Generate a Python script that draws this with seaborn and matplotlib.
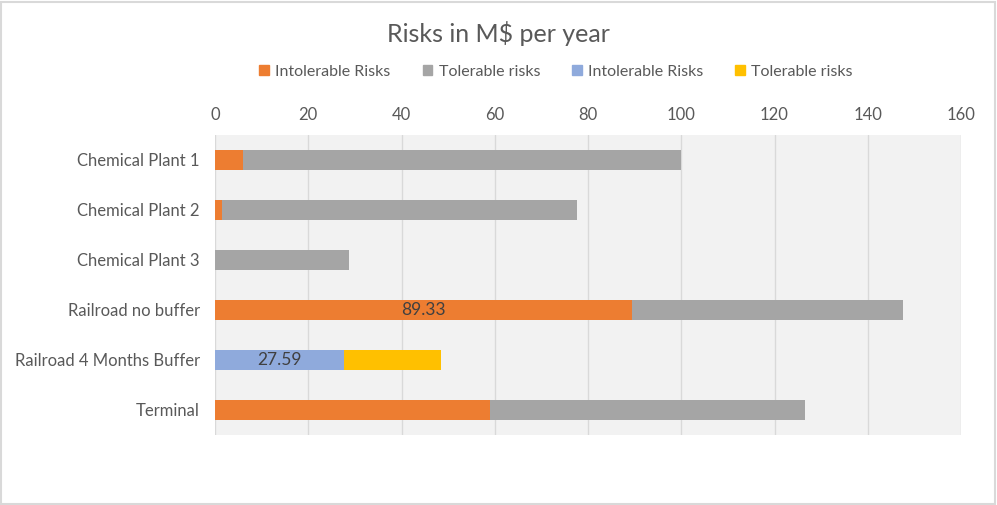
import matplotlib
matplotlib.use("Agg")
import matplotlib.pyplot as plt
import seaborn as sns
import pandas as pd
from matplotlib.patches import Rectangle

categories = ["Chemical Plant 1", "Chemical Plant 2", "Chemical Plant 3",
              "Railroad no buffer", "Railroad 4 Months Buffer", "Terminal"]
# Series 1/2 (orange / grey)
intolerable_a = [6.0, 1.5, 0.0, 89.33, None, 59.0]
tolerable_a = [94.0, 76.1, 28.7, 58.3, None, 67.5]
# Series 3/4 (blue / yellow)
intolerable_b = [None, None, None, None, 27.59, None]
tolerable_b = [None, None, None, None, 20.9, None]
labeled = {"Railroad no buffer": 89.33, "Railroad 4 Months Buffer": 27.59}
xticks = [0, 20, 40, 60, 80, 100, 120, 140, 160]

c_orange = "#ED7D31"
c_grey = "#A5A5A5"
c_blue = "#8FAADC"
c_yellow = "#FFC000"
txt = "#595959"

df = pd.DataFrame({
    "cat": categories,
    "ia": intolerable_a, "ta": tolerable_a,
    "ib": intolerable_b, "tb": tolerable_b,
})
df = df.astype({"ia": float, "ta": float, "ib": float, "tb": float})
df["tot_a"] = df["ia"] + df["ta"]
df["tot_b"] = df["ib"] + df["tb"]

sns.set_theme(style="white")
plt.rcParams["font.family"] = ["Lato", "DejaVu Sans"]

fig = plt.figure(figsize=(9.97, 5.05), dpi=100)
ax = fig.add_axes([215 / 997, 1 - 435 / 505, (961 - 215) / 997, 300 / 505])
ax.set_facecolor("#F2F2F2")

w = 0.4
sns.barplot(data=df, x="tot_a", y="cat", order=categories, color=c_grey,
            width=w, orient="h", ax=ax, saturation=1, linewidth=0)
sns.barplot(data=df, x="ia", y="cat", order=categories, color=c_orange,
            width=w, orient="h", ax=ax, saturation=1, linewidth=0)
sns.barplot(data=df, x="tot_b", y="cat", order=categories, color=c_yellow,
            width=w, orient="h", ax=ax, saturation=1, linewidth=0)
sns.barplot(data=df, x="ib", y="cat", order=categories, color=c_blue,
            width=w, orient="h", ax=ax, saturation=1, linewidth=0)

for i, c in enumerate(categories):
    if c in labeled:
        v = labeled[c]
        ax.text(v / 2, i, f"{v:.2f}", ha="center", va="center",
                fontsize=12.5, color="#404040")

ax.set_xlim(0, 160)
ax.set_ylim(5.5, -0.5)
ax.set_xticks(xticks)
ax.xaxis.tick_top()
ax.tick_params(axis="x", length=0, pad=9, labelsize=12, labelcolor=txt)
ax.tick_params(axis="y", length=0, pad=11, labelsize=12, labelcolor=txt)
ax.set_xlabel("")
ax.set_ylabel("")
ax.set_axisbelow(True)
ax.grid(axis="x", color="#D9D9D9", linewidth=1)
for s in ax.spines.values():
    s.set_visible(False)

fig.text(0.5, 1 - 33 / 505, "Risks in M$ per year", ha="center", va="center",
         fontsize=18, color=txt)

handles = [Rectangle((0, 0), 1, 1, color=c) for c in [c_orange, c_grey, c_blue, c_yellow]]
labels = ["Intolerable Risks", "Tolerable risks", "Intolerable Risks", "Tolerable risks"]
leg = fig.legend(handles, labels, loc="center", ncol=4,
                 bbox_to_anchor=(556 / 997, 1 - 72 / 505), frameon=False,
                 fontsize=11.5, handlelength=0.6, handleheight=0.6,
                 handletextpad=0.4, columnspacing=2.0, labelcolor=txt)

fig.patches.append(Rectangle((0.001, 0.002), 0.997, 0.995, transform=fig.transFigure,
                             fill=False, edgecolor="#D9D9D9", linewidth=1.5))

fig.savefig("out.png", dpi=100)
